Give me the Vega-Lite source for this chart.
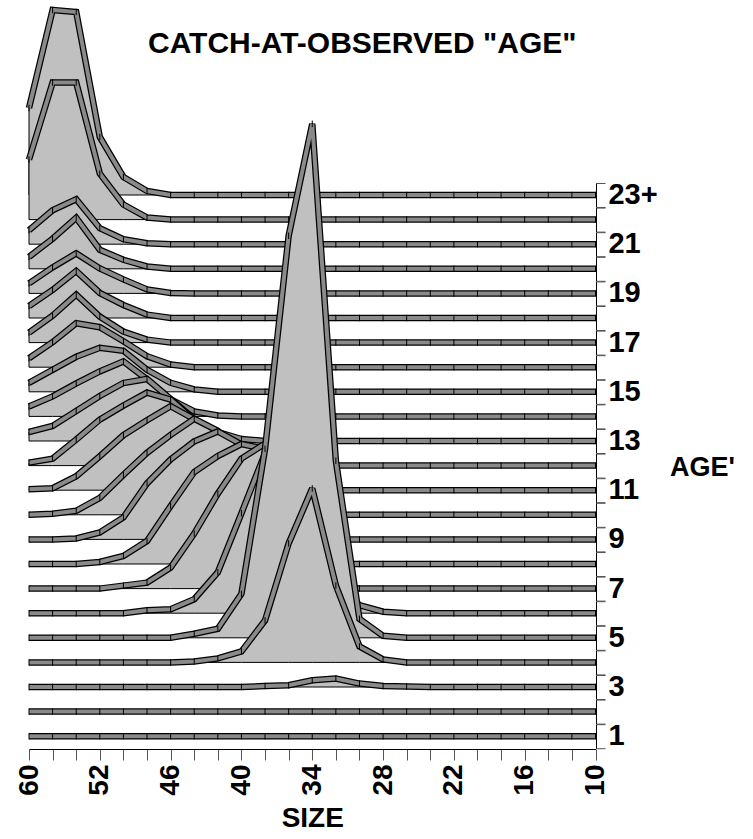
{
"$schema": "https://vega.github.io/schema/vega-lite/v6.json",
"title": {"text": "CATCH-AT-OBSERVED \"AGE\"", "fontSize": 30, "font": "Liberation Sans", "fontWeight": "bold", "anchor": "start", "frame": "group", "dx": 119, "offset": -59, "color": "black"},
"bounds": "flush",
"spacing": {"row": 0.6},
"padding": {"left": 15, "top": 0, "right": 5, "bottom": 0},
"data": {"values": [
{"age":23,"size":60,"n":87},{"age":23,"size":56,"n":185},{"age":23,"size":54,"n":183},{"age":23,"size":52,"n":58},{"age":23,"size":50,"n":18},{"age":23,"size":48,"n":4},{"age":23,"size":46,"n":0},{"age":23,"size":44,"n":0},{"age":23,"size":42,"n":0},{"age":23,"size":40,"n":0},{"age":23,"size":38,"n":0},{"age":23,"size":36,"n":0},{"age":23,"size":34,"n":0},{"age":23,"size":32,"n":0},{"age":23,"size":30,"n":0},{"age":23,"size":28,"n":0},{"age":23,"size":26,"n":0},{"age":23,"size":24,"n":0},{"age":23,"size":22,"n":0},{"age":23,"size":20,"n":0},{"age":23,"size":18,"n":0},{"age":23,"size":16,"n":0},{"age":23,"size":14,"n":0},{"age":23,"size":12,"n":0},{"age":23,"size":10,"n":0},
{"age":22,"size":60,"n":60},{"age":22,"size":56,"n":137},{"age":22,"size":54,"n":137},{"age":22,"size":52,"n":46},{"age":22,"size":50,"n":15},{"age":22,"size":48,"n":2},{"age":22,"size":46,"n":0},{"age":22,"size":44,"n":0},{"age":22,"size":42,"n":0},{"age":22,"size":40,"n":0},{"age":22,"size":38,"n":0},{"age":22,"size":36,"n":0},{"age":22,"size":34,"n":0},{"age":22,"size":32,"n":0},{"age":22,"size":30,"n":0},{"age":22,"size":28,"n":0},{"age":22,"size":26,"n":0},{"age":22,"size":24,"n":0},{"age":22,"size":22,"n":0},{"age":22,"size":20,"n":0},{"age":22,"size":18,"n":0},{"age":22,"size":16,"n":0},{"age":22,"size":14,"n":0},{"age":22,"size":12,"n":0},{"age":22,"size":10,"n":0},
{"age":21,"size":60,"n":14},{"age":21,"size":56,"n":34},{"age":21,"size":54,"n":45},{"age":21,"size":52,"n":16},{"age":21,"size":50,"n":5},{"age":21,"size":48,"n":1},{"age":21,"size":46,"n":0},{"age":21,"size":44,"n":0},{"age":21,"size":42,"n":0},{"age":21,"size":40,"n":0},{"age":21,"size":38,"n":0},{"age":21,"size":36,"n":0},{"age":21,"size":34,"n":0},{"age":21,"size":32,"n":0},{"age":21,"size":30,"n":0},{"age":21,"size":28,"n":0},{"age":21,"size":26,"n":0},{"age":21,"size":24,"n":0},{"age":21,"size":22,"n":0},{"age":21,"size":20,"n":0},{"age":21,"size":18,"n":0},{"age":21,"size":16,"n":0},{"age":21,"size":14,"n":0},{"age":21,"size":12,"n":0},{"age":21,"size":10,"n":0},
{"age":20,"size":60,"n":12},{"age":20,"size":56,"n":30},{"age":20,"size":54,"n":51},{"age":20,"size":52,"n":19},{"age":20,"size":50,"n":9},{"age":20,"size":48,"n":2.3},{"age":20,"size":46,"n":0},{"age":20,"size":44,"n":0},{"age":20,"size":42,"n":0},{"age":20,"size":40,"n":0},{"age":20,"size":38,"n":0},{"age":20,"size":36,"n":0},{"age":20,"size":34,"n":0},{"age":20,"size":32,"n":0},{"age":20,"size":30,"n":0},{"age":20,"size":28,"n":0},{"age":20,"size":26,"n":0},{"age":20,"size":24,"n":0},{"age":20,"size":22,"n":0},{"age":20,"size":20,"n":0},{"age":20,"size":18,"n":0},{"age":20,"size":16,"n":0},{"age":20,"size":14,"n":0},{"age":20,"size":12,"n":0},{"age":20,"size":10,"n":0},
{"age":19,"size":60,"n":10},{"age":19,"size":56,"n":26},{"age":19,"size":54,"n":40},{"age":19,"size":52,"n":25},{"age":19,"size":50,"n":14},{"age":19,"size":48,"n":4},{"age":19,"size":46,"n":0.4},{"age":19,"size":44,"n":0},{"age":19,"size":42,"n":0},{"age":19,"size":40,"n":0},{"age":19,"size":38,"n":0},{"age":19,"size":36,"n":0},{"age":19,"size":34,"n":0},{"age":19,"size":32,"n":0},{"age":19,"size":30,"n":0},{"age":19,"size":28,"n":0},{"age":19,"size":26,"n":0},{"age":19,"size":24,"n":0},{"age":19,"size":22,"n":0},{"age":19,"size":20,"n":0},{"age":19,"size":18,"n":0},{"age":19,"size":16,"n":0},{"age":19,"size":14,"n":0},{"age":19,"size":12,"n":0},{"age":19,"size":10,"n":0},
{"age":18,"size":60,"n":12},{"age":18,"size":56,"n":28},{"age":18,"size":54,"n":47},{"age":18,"size":52,"n":25},{"age":18,"size":50,"n":13},{"age":18,"size":48,"n":3.4},{"age":18,"size":46,"n":0},{"age":18,"size":44,"n":0},{"age":18,"size":42,"n":0},{"age":18,"size":40,"n":0},{"age":18,"size":38,"n":0},{"age":18,"size":36,"n":0},{"age":18,"size":34,"n":0},{"age":18,"size":32,"n":0},{"age":18,"size":30,"n":0},{"age":18,"size":28,"n":0},{"age":18,"size":26,"n":0},{"age":18,"size":24,"n":0},{"age":18,"size":22,"n":0},{"age":18,"size":20,"n":0},{"age":18,"size":18,"n":0},{"age":18,"size":16,"n":0},{"age":18,"size":14,"n":0},{"age":18,"size":12,"n":0},{"age":18,"size":10,"n":0},
{"age":17,"size":60,"n":10},{"age":17,"size":56,"n":27},{"age":17,"size":54,"n":48},{"age":17,"size":52,"n":26},{"age":17,"size":50,"n":11},{"age":17,"size":48,"n":3},{"age":17,"size":46,"n":0},{"age":17,"size":44,"n":0},{"age":17,"size":42,"n":0},{"age":17,"size":40,"n":0},{"age":17,"size":38,"n":0},{"age":17,"size":36,"n":0},{"age":17,"size":34,"n":0},{"age":17,"size":32,"n":0},{"age":17,"size":30,"n":0},{"age":17,"size":28,"n":0},{"age":17,"size":26,"n":0},{"age":17,"size":24,"n":0},{"age":17,"size":22,"n":0},{"age":17,"size":20,"n":0},{"age":17,"size":18,"n":0},{"age":17,"size":16,"n":0},{"age":17,"size":14,"n":0},{"age":17,"size":12,"n":0},{"age":17,"size":10,"n":0},
{"age":16,"size":60,"n":9},{"age":16,"size":56,"n":25},{"age":16,"size":54,"n":44},{"age":16,"size":52,"n":40},{"age":16,"size":50,"n":26},{"age":16,"size":48,"n":11},{"age":16,"size":46,"n":2.7},{"age":16,"size":44,"n":0},{"age":16,"size":42,"n":0},{"age":16,"size":40,"n":0},{"age":16,"size":38,"n":0},{"age":16,"size":36,"n":0},{"age":16,"size":34,"n":0},{"age":16,"size":32,"n":0},{"age":16,"size":30,"n":0},{"age":16,"size":28,"n":0},{"age":16,"size":26,"n":0},{"age":16,"size":24,"n":0},{"age":16,"size":22,"n":0},{"age":16,"size":20,"n":0},{"age":16,"size":18,"n":0},{"age":16,"size":16,"n":0},{"age":16,"size":14,"n":0},{"age":16,"size":12,"n":0},{"age":16,"size":10,"n":0},
{"age":15,"size":60,"n":9},{"age":15,"size":56,"n":22},{"age":15,"size":54,"n":35},{"age":15,"size":52,"n":44},{"age":15,"size":50,"n":41},{"age":15,"size":48,"n":22},{"age":15,"size":46,"n":9},{"age":15,"size":44,"n":2.4},{"age":15,"size":42,"n":0},{"age":15,"size":40,"n":0},{"age":15,"size":38,"n":0},{"age":15,"size":36,"n":0},{"age":15,"size":34,"n":0},{"age":15,"size":32,"n":0},{"age":15,"size":30,"n":0},{"age":15,"size":28,"n":0},{"age":15,"size":26,"n":0},{"age":15,"size":24,"n":0},{"age":15,"size":22,"n":0},{"age":15,"size":20,"n":0},{"age":15,"size":18,"n":0},{"age":15,"size":16,"n":0},{"age":15,"size":14,"n":0},{"age":15,"size":12,"n":0},{"age":15,"size":10,"n":0},
{"age":14,"size":60,"n":10},{"age":14,"size":56,"n":20},{"age":14,"size":54,"n":33},{"age":14,"size":52,"n":45},{"age":14,"size":50,"n":55},{"age":14,"size":48,"n":37},{"age":14,"size":46,"n":17},{"age":14,"size":44,"n":5},{"age":14,"size":42,"n":1},{"age":14,"size":40,"n":0},{"age":14,"size":38,"n":0},{"age":14,"size":36,"n":0},{"age":14,"size":34,"n":0},{"age":14,"size":32,"n":0},{"age":14,"size":30,"n":0},{"age":14,"size":28,"n":0},{"age":14,"size":26,"n":0},{"age":14,"size":24,"n":0},{"age":14,"size":22,"n":0},{"age":14,"size":20,"n":0},{"age":14,"size":18,"n":0},{"age":14,"size":16,"n":0},{"age":14,"size":14,"n":0},{"age":14,"size":12,"n":0},{"age":14,"size":10,"n":0},
{"age":13,"size":60,"n":9},{"age":13,"size":56,"n":15},{"age":13,"size":54,"n":30},{"age":13,"size":52,"n":45},{"age":13,"size":50,"n":58},{"age":13,"size":48,"n":62},{"age":13,"size":46,"n":42},{"age":13,"size":44,"n":22},{"age":13,"size":42,"n":9},{"age":13,"size":40,"n":2},{"age":13,"size":38,"n":0},{"age":13,"size":36,"n":0},{"age":13,"size":34,"n":0},{"age":13,"size":32,"n":0},{"age":13,"size":30,"n":0},{"age":13,"size":28,"n":0},{"age":13,"size":26,"n":0},{"age":13,"size":24,"n":0},{"age":13,"size":22,"n":0},{"age":13,"size":20,"n":0},{"age":13,"size":18,"n":0},{"age":13,"size":16,"n":0},{"age":13,"size":14,"n":0},{"age":13,"size":12,"n":0},{"age":13,"size":10,"n":0},
{"age":12,"size":60,"n":3},{"age":12,"size":56,"n":7},{"age":12,"size":54,"n":26},{"age":12,"size":52,"n":46},{"age":12,"size":50,"n":60},{"age":12,"size":48,"n":73},{"age":12,"size":46,"n":66},{"age":12,"size":44,"n":45},{"age":12,"size":42,"n":25},{"age":12,"size":40,"n":10},{"age":12,"size":38,"n":3},{"age":12,"size":36,"n":0},{"age":12,"size":34,"n":0},{"age":12,"size":32,"n":0},{"age":12,"size":30,"n":0},{"age":12,"size":28,"n":0},{"age":12,"size":26,"n":0},{"age":12,"size":24,"n":0},{"age":12,"size":22,"n":0},{"age":12,"size":20,"n":0},{"age":12,"size":18,"n":0},{"age":12,"size":16,"n":0},{"age":12,"size":14,"n":0},{"age":12,"size":12,"n":0},{"age":12,"size":10,"n":0},
{"age":11,"size":60,"n":1},{"age":11,"size":56,"n":2},{"age":11,"size":54,"n":14},{"age":11,"size":52,"n":34},{"age":11,"size":50,"n":55},{"age":11,"size":48,"n":70},{"age":11,"size":46,"n":84},{"age":11,"size":44,"n":71},{"age":11,"size":42,"n":50},{"age":11,"size":40,"n":25},{"age":11,"size":38,"n":8},{"age":11,"size":36,"n":0},{"age":11,"size":34,"n":0},{"age":11,"size":32,"n":0},{"age":11,"size":30,"n":0},{"age":11,"size":28,"n":0},{"age":11,"size":26,"n":0},{"age":11,"size":24,"n":0},{"age":11,"size":22,"n":0},{"age":11,"size":20,"n":0},{"age":11,"size":18,"n":0},{"age":11,"size":16,"n":0},{"age":11,"size":14,"n":0},{"age":11,"size":12,"n":0},{"age":11,"size":10,"n":0},
{"age":10,"size":60,"n":0},{"age":10,"size":56,"n":1},{"age":10,"size":54,"n":4},{"age":10,"size":52,"n":17},{"age":10,"size":50,"n":40},{"age":10,"size":48,"n":62},{"age":10,"size":46,"n":80},{"age":10,"size":44,"n":96},{"age":10,"size":42,"n":84},{"age":10,"size":40,"n":55},{"age":10,"size":38,"n":25},{"age":10,"size":36,"n":6},{"age":10,"size":34,"n":0},{"age":10,"size":32,"n":0},{"age":10,"size":30,"n":0},{"age":10,"size":28,"n":0},{"age":10,"size":26,"n":0},{"age":10,"size":24,"n":0},{"age":10,"size":22,"n":0},{"age":10,"size":20,"n":0},{"age":10,"size":18,"n":0},{"age":10,"size":16,"n":0},{"age":10,"size":14,"n":0},{"age":10,"size":12,"n":0},{"age":10,"size":10,"n":0},
{"age":9,"size":60,"n":0},{"age":9,"size":56,"n":0},{"age":9,"size":54,"n":1},{"age":9,"size":52,"n":7},{"age":9,"size":50,"n":22},{"age":9,"size":48,"n":56},{"age":9,"size":46,"n":80},{"age":9,"size":44,"n":98},{"age":9,"size":42,"n":108},{"age":9,"size":40,"n":95},{"age":9,"size":38,"n":60},{"age":9,"size":36,"n":20},{"age":9,"size":34,"n":3},{"age":9,"size":32,"n":0},{"age":9,"size":30,"n":0},{"age":9,"size":28,"n":0},{"age":9,"size":26,"n":0},{"age":9,"size":24,"n":0},{"age":9,"size":22,"n":0},{"age":9,"size":20,"n":0},{"age":9,"size":18,"n":0},{"age":9,"size":16,"n":0},{"age":9,"size":14,"n":0},{"age":9,"size":12,"n":0},{"age":9,"size":10,"n":0},
{"age":8,"size":60,"n":0},{"age":8,"size":56,"n":0},{"age":8,"size":54,"n":0},{"age":8,"size":52,"n":2},{"age":8,"size":50,"n":8},{"age":8,"size":48,"n":23},{"age":8,"size":46,"n":58},{"age":8,"size":44,"n":92},{"age":8,"size":42,"n":108},{"age":8,"size":40,"n":120},{"age":8,"size":38,"n":115},{"age":8,"size":36,"n":60},{"age":8,"size":34,"n":10},{"age":8,"size":32,"n":0},{"age":8,"size":30,"n":0},{"age":8,"size":28,"n":0},{"age":8,"size":26,"n":0},{"age":8,"size":24,"n":0},{"age":8,"size":22,"n":0},{"age":8,"size":20,"n":0},{"age":8,"size":18,"n":0},{"age":8,"size":16,"n":0},{"age":8,"size":14,"n":0},{"age":8,"size":12,"n":0},{"age":8,"size":10,"n":0},
{"age":7,"size":60,"n":0},{"age":7,"size":56,"n":0},{"age":7,"size":54,"n":0},{"age":7,"size":52,"n":0},{"age":7,"size":50,"n":3},{"age":7,"size":48,"n":6},{"age":7,"size":46,"n":21},{"age":7,"size":44,"n":55},{"age":7,"size":42,"n":95},{"age":7,"size":40,"n":130},{"age":7,"size":38,"n":145},{"age":7,"size":36,"n":100},{"age":7,"size":34,"n":30},{"age":7,"size":32,"n":5},{"age":7,"size":30,"n":0},{"age":7,"size":28,"n":0},{"age":7,"size":26,"n":0},{"age":7,"size":24,"n":0},{"age":7,"size":22,"n":0},{"age":7,"size":20,"n":0},{"age":7,"size":18,"n":0},{"age":7,"size":16,"n":0},{"age":7,"size":14,"n":0},{"age":7,"size":12,"n":0},{"age":7,"size":10,"n":0},
{"age":6,"size":60,"n":0},{"age":6,"size":56,"n":0},{"age":6,"size":54,"n":0},{"age":6,"size":52,"n":0},{"age":6,"size":50,"n":0},{"age":6,"size":48,"n":3},{"age":6,"size":46,"n":4},{"age":6,"size":44,"n":14},{"age":6,"size":42,"n":41},{"age":6,"size":40,"n":100},{"age":6,"size":38,"n":160},{"age":6,"size":36,"n":150},{"age":6,"size":34,"n":80},{"age":6,"size":32,"n":30},{"age":6,"size":30,"n":8},{"age":6,"size":28,"n":1.5},{"age":6,"size":26,"n":0},{"age":6,"size":24,"n":0},{"age":6,"size":22,"n":0},{"age":6,"size":20,"n":0},{"age":6,"size":18,"n":0},{"age":6,"size":16,"n":0},{"age":6,"size":14,"n":0},{"age":6,"size":12,"n":0},{"age":6,"size":10,"n":0},
{"age":5,"size":60,"n":0},{"age":5,"size":56,"n":0},{"age":5,"size":54,"n":0},{"age":5,"size":52,"n":0},{"age":5,"size":50,"n":0},{"age":5,"size":48,"n":0},{"age":5,"size":46,"n":0},{"age":5,"size":44,"n":4},{"age":5,"size":42,"n":9},{"age":5,"size":40,"n":44},{"age":5,"size":38,"n":189},{"age":5,"size":36,"n":402},{"age":5,"size":34,"n":514},{"age":5,"size":32,"n":177},{"age":5,"size":30,"n":19},{"age":5,"size":28,"n":2},{"age":5,"size":26,"n":0},{"age":5,"size":24,"n":0},{"age":5,"size":22,"n":0},{"age":5,"size":20,"n":0},{"age":5,"size":18,"n":0},{"age":5,"size":16,"n":0},{"age":5,"size":14,"n":0},{"age":5,"size":12,"n":0},{"age":5,"size":10,"n":0},
{"age":4,"size":60,"n":0},{"age":4,"size":56,"n":0},{"age":4,"size":54,"n":0},{"age":4,"size":52,"n":0},{"age":4,"size":50,"n":0},{"age":4,"size":48,"n":0},{"age":4,"size":46,"n":0},{"age":4,"size":44,"n":1},{"age":4,"size":42,"n":4},{"age":4,"size":40,"n":11},{"age":4,"size":38,"n":42},{"age":4,"size":36,"n":119},{"age":4,"size":34,"n":174},{"age":4,"size":32,"n":77},{"age":4,"size":30,"n":16},{"age":4,"size":28,"n":3},{"age":4,"size":26,"n":0},{"age":4,"size":24,"n":0},{"age":4,"size":22,"n":0},{"age":4,"size":20,"n":0},{"age":4,"size":18,"n":0},{"age":4,"size":16,"n":0},{"age":4,"size":14,"n":0},{"age":4,"size":12,"n":0},{"age":4,"size":10,"n":0},
{"age":3,"size":60,"n":0},{"age":3,"size":56,"n":0},{"age":3,"size":54,"n":0},{"age":3,"size":52,"n":0},{"age":3,"size":50,"n":0},{"age":3,"size":48,"n":0},{"age":3,"size":46,"n":0},{"age":3,"size":44,"n":0},{"age":3,"size":42,"n":0},{"age":3,"size":40,"n":0},{"age":3,"size":38,"n":1},{"age":3,"size":36,"n":1.7},{"age":3,"size":34,"n":6.7},{"age":3,"size":32,"n":8.4},{"age":3,"size":30,"n":3.4},{"age":3,"size":28,"n":1},{"age":3,"size":26,"n":0.5},{"age":3,"size":24,"n":0},{"age":3,"size":22,"n":0},{"age":3,"size":20,"n":0},{"age":3,"size":18,"n":0},{"age":3,"size":16,"n":0},{"age":3,"size":14,"n":0},{"age":3,"size":12,"n":0},{"age":3,"size":10,"n":0},
{"age":2,"size":60,"n":0},{"age":2,"size":56,"n":0},{"age":2,"size":54,"n":0},{"age":2,"size":52,"n":0},{"age":2,"size":50,"n":0},{"age":2,"size":48,"n":0},{"age":2,"size":46,"n":0},{"age":2,"size":44,"n":0},{"age":2,"size":42,"n":0},{"age":2,"size":40,"n":0},{"age":2,"size":38,"n":0},{"age":2,"size":36,"n":0},{"age":2,"size":34,"n":0},{"age":2,"size":32,"n":0},{"age":2,"size":30,"n":0},{"age":2,"size":28,"n":0},{"age":2,"size":26,"n":0},{"age":2,"size":24,"n":0},{"age":2,"size":22,"n":0},{"age":2,"size":20,"n":0},{"age":2,"size":18,"n":0},{"age":2,"size":16,"n":0},{"age":2,"size":14,"n":0},{"age":2,"size":12,"n":0},{"age":2,"size":10,"n":0},
{"age":1,"size":60,"n":0},{"age":1,"size":56,"n":0},{"age":1,"size":54,"n":0},{"age":1,"size":52,"n":0},{"age":1,"size":50,"n":0},{"age":1,"size":48,"n":0},{"age":1,"size":46,"n":0},{"age":1,"size":44,"n":0},{"age":1,"size":42,"n":0},{"age":1,"size":40,"n":0},{"age":1,"size":38,"n":0},{"age":1,"size":36,"n":0},{"age":1,"size":34,"n":0},{"age":1,"size":32,"n":0},{"age":1,"size":30,"n":0},{"age":1,"size":28,"n":0},{"age":1,"size":26,"n":0},{"age":1,"size":24,"n":0},{"age":1,"size":22,"n":0},{"age":1,"size":20,"n":0},{"age":1,"size":18,"n":0},{"age":1,"size":16,"n":0},{"age":1,"size":14,"n":0},{"age":1,"size":12,"n":0},{"age":1,"size":10,"n":0}
]},
"facet": {"row": {"field": "age", "type": "ordinal", "sort": "descending", "title": ["", "AGE'"],
  "header": {"labelOrient": "right", "labelAngle": 0, "labelAlign": "right", "labelBaseline": "middle", "labelFont": "Liberation Sans", "labelFontSize": 29, "labelFontWeight": "bold", "labelColor": "black", "labelPadding": 3,
    "labelExpr": "datum.value == 23 ? '23+' : (datum.value % 2 == 1 ? '' + datum.value : '')",
    "titleOrient": "right", "titleAngle": 0, "titleAlign": "right", "titleBaseline": "middle", "titleLineHeight": 94, "titleFont": "Liberation Sans", "titleFontSize": 27, "titleFontWeight": "bold", "titleColor": "black", "titlePadding": 2}}},
"spec": {
  "width": 566.5,
  "height": 24,
  "encoding": {
    "x": {"field": "size", "type": "ordinal", "sort": "descending", "scale": {"type": "point", "padding": 0},
      "axis": {"title": "SIZE", "titleFont": "Liberation Sans", "titleFontSize": 28, "titleFontWeight": "bold", "titleColor": "black", "titlePadding": 9,
        "labelAngle": 270, "labelFont": "Liberation Sans", "labelFontSize": 28, "labelFontWeight": "bold", "labelColor": "black", "labelPadding": 4,
        "labelExpr": "indexof([60,52,46,40,34,28,22,16,10], datum.value) >= 0 ? datum.label : ''",
        "tickColor": "#555", "tickSize": 11, "domainColor": "black", "grid": false}},
    "y": {"field": "n", "type": "quantitative", "scale": {"domain": [-12, 12], "nice": false, "zero": false},
      "axis": {"orient": "right", "values": [-12, 12], "labels": false, "title": null, "grid": false, "domainColor": "black", "tickColor": "#555", "tickSize": 9}}
  },
  "layer": [
    {"mark": {"type": "area", "fill": "#c0c0c0", "stroke": "black", "strokeWidth": 1, "clip": false}},
    {"mark": {"type": "line", "stroke": "black", "strokeWidth": 6.5, "strokeJoin": "miter", "strokeMiterLimit": 3, "clip": false}},
    {"mark": {"type": "line", "stroke": "#8a8a8a", "strokeWidth": 4, "strokeJoin": "miter", "strokeMiterLimit": 3, "clip": false}},
    {"mark": {"type": "point", "shape": "M0,-1V1", "size": 42, "filled": false, "stroke": "black", "strokeWidth": 1, "opacity": 1, "clip": false}}
  ]
},
"config": {"font": "Liberation Sans", "view": {"stroke": null}, "background": "white"}
}
